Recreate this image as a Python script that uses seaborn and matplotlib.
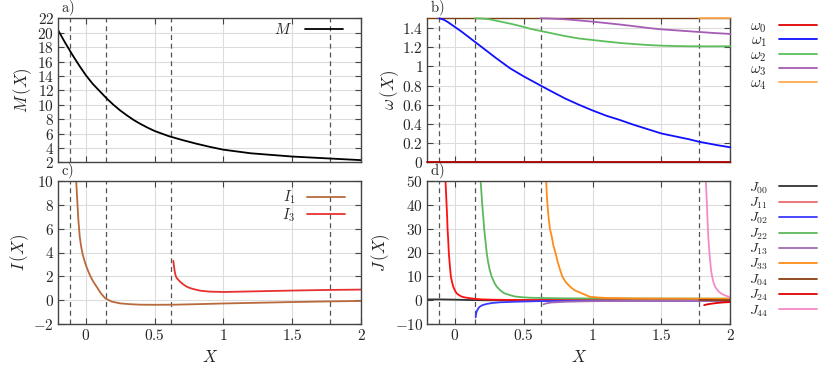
import numpy as np
import matplotlib
matplotlib.use("Agg")
import matplotlib.pyplot as plt
import seaborn as sns
from matplotlib.ticker import FuncFormatter

# thresholds (dashed vertical lines)
thresholds = [-0.112, 0.145, 0.622, 1.775]

# panel a) M(X)
m_x = [-0.2, -0.15, -0.1, -0.05, 0.0, 0.05, 0.1, 0.15, 0.2, 0.25, 0.3, 0.35, 0.4, 0.45,
       0.5, 0.6, 0.7, 0.8, 0.9, 1.0, 1.1, 1.2, 1.3, 1.4, 1.5, 1.6, 1.7, 1.8, 1.9, 2.0]
m_y = [20.3, 18.6, 17.0, 15.5, 14.1, 12.9, 11.9, 10.9, 10.0, 9.2, 8.5, 7.85, 7.3, 6.8,
       6.35, 5.65, 5.1, 4.6, 4.15, 3.75, 3.5, 3.25, 3.1, 2.95, 2.8, 2.7, 2.6, 2.5, 2.4, 2.3]

# panel b) omega_n(X)
w0_x = [-0.2, 2.0]
w0_y = [0.0, 0.0]
w1_x = [-0.112, -0.08, -0.05, 0.0, 0.05, 0.1, 0.141, 0.2, 0.3, 0.4, 0.5, 0.622, 0.7,
        0.8, 0.9, 1.0, 1.1, 1.2, 1.3, 1.4, 1.5, 1.6, 1.7, 1.77, 1.9, 2.0]
w1_y = [1.5, 1.485, 1.46, 1.41, 1.36, 1.305, 1.26, 1.195, 1.085, 0.98, 0.895, 0.80, 0.74,
        0.665, 0.60, 0.54, 0.485, 0.44, 0.39, 0.345, 0.30, 0.27, 0.24, 0.215, 0.18, 0.156]
w2_x = [0.145, 0.2, 0.25, 0.3, 0.35, 0.4, 0.45, 0.5, 0.55, 0.622, 0.7, 0.8, 0.9, 1.0,
        1.1, 1.2, 1.3, 1.4, 1.5, 1.6, 1.7, 1.8, 1.9, 2.0]
w2_y = [1.5, 1.497, 1.49, 1.475, 1.46, 1.445, 1.428, 1.41, 1.39, 1.368, 1.345, 1.315,
        1.29, 1.274, 1.258, 1.243, 1.232, 1.222, 1.215, 1.211, 1.209, 1.208, 1.208, 1.209]
w3_x = [0.622, 0.7, 0.8, 0.9, 1.0, 1.1, 1.2, 1.3, 1.4, 1.5, 1.6, 1.7, 1.8, 1.9, 2.0]
w3_y = [1.5, 1.497, 1.49, 1.478, 1.465, 1.45, 1.435, 1.418, 1.40, 1.385, 1.375, 1.365,
        1.355, 1.345, 1.337]
w4_x = [1.775, 2.0]
w4_y = [1.5, 1.5]

# panel c) I(X)
i1_x = [-0.07, -0.061, -0.054, -0.044, -0.034, -0.024, -0.012, 0.0, 0.017, 0.034, 0.055,
        0.078, 0.109, 0.141, 0.187, 0.248, 0.32, 0.393, 0.5, 0.65, 0.8, 1.0, 1.25, 1.5,
        1.75, 2.0]
i1_y = [10.0, 8.1, 6.7, 5.3, 4.5, 3.9, 3.4, 2.96, 2.45, 2.0, 1.55, 1.15, 0.6, 0.17, -0.1,
        -0.25, -0.32, -0.36, -0.37, -0.36, -0.32, -0.26, -0.2, -0.14, -0.09, -0.05]
i3_x = [0.636, 0.641, 0.645, 0.65, 0.655, 0.662, 0.67, 0.684, 0.7, 0.71, 0.733, 0.755,
        0.78, 0.83, 0.9, 1.0, 1.25, 1.5, 1.75, 2.0]
i3_y = [3.3, 2.85, 2.5, 2.2, 2.0, 1.85, 1.75, 1.57, 1.42, 1.32, 1.15, 1.04, 0.95, 0.81,
        0.73, 0.7, 0.76, 0.82, 0.87, 0.9]

# panel d) J_nm(X)
j00_x = [-0.2, -0.1, 0.0, 0.1, 0.2, 0.5, 1.0, 1.5, 2.0]
j00_y = [0.4, 0.4, 0.3, 0.15, 0.05, 0.0, 0.0, 0.0, 0.0]
j11_x = [-0.068, -0.064, -0.06, -0.056, -0.053, -0.048, -0.044, -0.037, -0.029, -0.02,
         -0.012, 0.0, 0.012, 0.03, 0.049, 0.075, 0.109, 0.15, 0.2, 0.3, 0.5, 1.0, 1.5, 2.0]
j11_y = [50, 45, 40, 35, 30, 25, 20, 15, 10, 7.6, 5.8, 4.2, 3.0, 2.2, 1.6, 1.2, 0.9, 0.6,
         0.4, 0.25, 0.15, 0.1, 0.05, 0.05]
j02_x = [0.151, 0.153, 0.156, 0.158, 0.165, 0.172, 0.182, 0.2, 0.231, 0.27, 0.328, 0.45,
         0.62, 0.8, 1.0, 1.5, 2.0]
j02_y = [-7.1, -6.2, -5.3, -4.7, -3.9, -3.2, -2.6, -2.0, -1.5, -1.1, -0.8, -0.55, -0.3,
         -0.25, -0.2, -0.15, -0.1]
j22_x = [0.187, 0.193, 0.199, 0.206, 0.213, 0.222, 0.231, 0.24, 0.252, 0.267, 0.285,
         0.303, 0.33, 0.357, 0.4, 0.437, 0.49, 0.546, 0.65, 0.8, 1.0, 1.5, 2.0]
j22_y = [50, 45, 40, 35, 30, 25, 20, 16.5, 13.0, 10.0, 7.6, 5.8, 4.2, 3.0, 2.2, 1.6, 1.3,
         1.1, 0.95, 0.85, 0.8, 0.75, 0.7]
j13_x = [0.643, 0.65, 0.66, 0.68, 0.7, 0.75, 0.8, 0.9, 1.0, 1.25, 1.5, 2.0]
j13_y = [-1.7, -1.5, -1.3, -1.1, -0.9, -0.75, -0.6, -0.45, -0.35, -0.25, -0.2, -0.15]
j33_x = [0.663, 0.667, 0.672, 0.68, 0.69, 0.704, 0.715, 0.73, 0.748, 0.765, 0.78, 0.805,
         0.837, 0.87, 0.92, 0.98, 1.04, 1.1, 1.3, 1.5, 2.0]
j33_y = [50, 45, 40.5, 35, 30, 26.6, 23.0, 20.0, 15.8, 12.6, 10.0, 7.6, 5.7, 4.2, 3.0,
         1.5, 1.2, 1.0, 0.8, 0.75, 0.7]
j04_x = [1.775, 1.9, 2.0]
j04_y = [0.2, 0.1, 0.05]
j24_x = [1.81, 1.83, 1.85, 1.875, 1.9, 1.95, 2.0]
j24_y = [-2.0, -1.7, -1.5, -1.3, -1.1, -0.85, -0.7]
j44_x = [1.823, 1.826, 1.83, 1.835, 1.84, 1.845, 1.85, 1.86, 1.868, 1.878, 1.89, 1.91,
         1.93, 1.96, 1.99, 2.0]
j44_y = [50, 45, 40.5, 33, 26.6, 22.5, 19, 12.7, 10.0, 7.5, 5.7, 4.0, 3.0, 2.1, 1.5, 1.3]

sns.set_theme(style="ticks")
plt.rcParams["mathtext.fontset"] = "cm"
plt.rcParams["font.family"] = ["DejaVu Serif"]
plt.rcParams["axes.unicode_minus"] = True

fig = plt.figure(figsize=(8.3, 3.69), dpi=100)
W, H = 830, 369


def box(l, t, r, b):
    return [l / W, 1 - b / H, (r - l) / W, (b - t) / H]


ax_a = fig.add_axes(box(58.3, 18.3, 361, 162.3))
ax_b = fig.add_axes(box(427.3, 18.3, 730.3, 162.3))
ax_c = fig.add_axes(box(58.3, 180.7, 361, 324.3))
ax_d = fig.add_axes(box(427.3, 180.7, 730.3, 324.3))

fmt = FuncFormatter(lambda v, p: f"${v:g}$")


def style(ax, ylim, yticks, show_x):
    ax.set_xlim(-0.2, 2)
    ax.set_ylim(*ylim)
    ax.set_xticks([0, 0.5, 1, 1.5, 2])
    ax.set_yticks(yticks)
    ax.yaxis.set_major_formatter(fmt)
    ax.xaxis.set_major_formatter(fmt)
    ax.grid(True, color="#dcdcdc", lw=0.8)
    ax.set_axisbelow(True)
    ax.tick_params(direction="in", length=4, width=0.8, color="#444444",
                   top=True, right=True, labelsize=11, pad=3)
    if not show_x:
        ax.tick_params(labelbottom=False)
    for s in ax.spines.values():
        s.set_color("#444444")
        s.set_linewidth(1.0)
    for t in thresholds:
        ax.axvline(t, color="#555555", lw=0.9, ls=(0, (4, 3)), zorder=1)


style(ax_a, (2, 22), np.arange(2, 23, 2), False)
style(ax_b, (0, 1.5), [0, 0.2, 0.4, 0.6, 0.8, 1, 1.2, 1.4], False)
style(ax_c, (-2, 10), np.arange(-2, 11, 2), True)
style(ax_d, (-10, 50), np.arange(-10, 51, 10), True)

# a)
sns.lineplot(x=m_x, y=m_y, ax=ax_a, color="black", lw=1.3, label="$M$")
ax_a.legend(loc="upper right", bbox_to_anchor=(0.985, 1.07), frameon=False,
            markerfirst=False, handlelength=2.5, fontsize=11)
ax_a.set_ylabel("$M\\,(X)$", fontsize=12, labelpad=2)

# b)
w_series = [(w0_x, w0_y, "#e00000", "$\\omega_0$"),
            (w1_x, w1_y, "#1010ff", "$\\omega_1$"),
            (w2_x, w2_y, "#5cbf5c", "$\\omega_2$"),
            (w3_x, w3_y, "#a45cb4", "$\\omega_3$"),
            (w4_x, w4_y, "#ffa950", "$\\omega_4$")]
for xs, ys, c, lab in w_series:
    sns.lineplot(x=xs, y=ys, ax=ax_b, color=c, lw=1.3, label=lab, clip_on=False, zorder=3)
ax_b.spines["top"].set_color("#7a3e12")
ax_b.legend(loc="upper left", bbox_to_anchor=(1.02, 1.088), frameon=False,
            markerfirst=False, handlelength=2.5, fontsize=11, labelspacing=-0.085)
ax_b.lines[4].set_color("#b00000")
ax_b.set_ylabel("$\\omega\\,(X)$", fontsize=12, labelpad=1)

# c)
sns.lineplot(x=i1_x, y=i1_y, ax=ax_c, color="#b86a3c", lw=1.3, label="$I_1$")
sns.lineplot(x=i3_x, y=i3_y, ax=ax_c, color="#e83030", lw=1.3, label="$I_3$")
ax_c.legend(loc="upper right", bbox_to_anchor=(0.99, 1.035), frameon=False,
            markerfirst=False, handlelength=2.6, fontsize=10.5, labelspacing=0.0)
ax_c.set_ylabel("$I\\,(X)$", fontsize=12, labelpad=2)
ax_c.set_xlabel("$X$", fontsize=12, labelpad=4)

# d)
j_series = [(j00_x, j00_y, "#333333", "$J_{00}$"),
            (j11_x, j11_y, "#f06a6a", "$J_{11}$"),
            (j02_x, j02_y, "#3a3aff", "$J_{02}$"),
            (j22_x, j22_y, "#5cb85c", "$J_{22}$"),
            (j13_x, j13_y, "#a66ab4", "$J_{13}$"),
            (j33_x, j33_y, "#ff8c1a", "$J_{33}$"),
            (j04_x, j04_y, "#8b3e10", "$J_{04}$"),
            (j24_x, j24_y, "#e00000", "$J_{24}$"),
            (j44_x, j44_y, "#f58ac8", "$J_{44}$")]
for xs, ys, c, lab in j_series:
    sns.lineplot(x=xs, y=ys, ax=ax_d, color=c, lw=1.3, label=lab)
ax_d.legend(loc="upper left", bbox_to_anchor=(1.02, 1.09), frameon=False,
            markerfirst=False, handlelength=2.7, fontsize=10, labelspacing=0.0)
# the diverging J11 curve is drawn in plain red in the panel
ax_d.lines[5].set_color("#ff1010")
ax_d.set_ylabel("$J\\,(X)$", fontsize=12, labelpad=2)
ax_d.set_xlabel("$X$", fontsize=12, labelpad=4)

for ax, lab in [(ax_a, "a)"), (ax_b, "b)"), (ax_c, "c)"), (ax_d, "d)")]:
    ax.text(0.01, 1.0, "$\\mathrm{" + lab + "}$", transform=ax.transAxes,
            fontsize=10.5, ha="left", va="bottom")

fig.savefig("out.png", dpi=100)
